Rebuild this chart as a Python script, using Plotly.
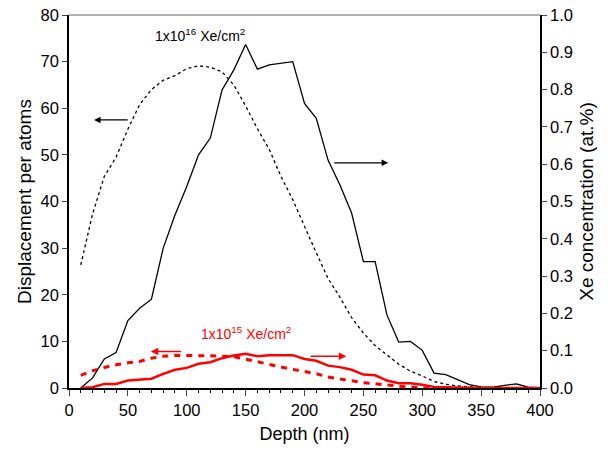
import plotly.graph_objects as go

depth = [10, 20, 30, 40, 50, 60, 70, 80, 90, 100, 110, 120, 130, 140, 150, 160, 170, 180, 190, 200,
         210, 220, 230, 240, 250, 260, 270, 280, 290, 300, 310, 320, 330, 340, 350, 360, 370, 380, 390, 400]

# 1x10^16 Xe concentration (at.%) - right axis
xe_16 = [0.0, 0.027, 0.078, 0.095, 0.181, 0.214, 0.238, 0.375, 0.464, 0.54, 0.625, 0.67, 0.799, 0.853,
         0.921, 0.855, 0.866, 0.871, 0.875, 0.763, 0.723, 0.611, 0.545, 0.469, 0.339, 0.339, 0.196,
         0.123, 0.125, 0.101, 0.040, 0.036, 0.022, 0.009, 0.003, 0.002, 0.007, 0.011, 0.002, 0.0]

# 1x10^16 displacement per atom - left axis
dpa_depth = [10, 20, 30, 40, 50, 60, 70, 80, 90, 100, 110, 120, 130, 140, 150, 160, 170, 180, 190, 200,
             210, 220, 230, 240, 250, 260, 270, 280, 290, 300, 310, 320, 330, 340, 350, 360, 370]
dpa_16 = [26.4, 37.3, 45.4, 49.5, 55.5, 60.8, 64.0, 66.0, 67.0, 68.5, 69.1, 68.8, 67.8, 65.0, 60.5,
          55.6, 51.2, 45.4, 40.4, 34.5, 29.0, 23.5, 19.5, 15.1, 11.8, 9.1, 7.0, 5.1, 3.6, 2.6, 1.4,
          0.8, 0.45, 0.25, 0.1, 0.05, 0.0]

# 1x10^15 Xe concentration (at.%) - right axis
xe_15 = [0.0, 0.002, 0.011, 0.011, 0.020, 0.022, 0.025, 0.038, 0.049, 0.054, 0.065, 0.069, 0.080, 0.087,
         0.092, 0.085, 0.088, 0.088, 0.088, 0.078, 0.073, 0.060, 0.056, 0.049, 0.036, 0.034, 0.020,
         0.013, 0.013, 0.009, 0.003, 0.002, 0.001, 0.0, 0.0, 0.0, 0.0, 0.0, 0.0, 0.0]

# 1x10^15 displacement per atom - left axis
dpa15_depth = [10, 20, 30, 40, 50, 60, 70, 80, 90, 100, 110, 120, 130, 140, 150, 160, 170, 180, 190, 200,
               210, 220, 230, 240, 250, 260, 270, 280, 290, 300, 310]
dpa_15 = [2.7, 3.7, 4.4, 5.0, 5.4, 5.7, 6.4, 6.8, 7.0, 7.0, 7.0, 6.9, 6.8, 6.7, 6.2, 5.6, 5.1, 4.5,
          4.0, 3.5, 3.06, 2.35, 1.9, 1.45, 1.15, 0.9, 0.6, 0.35, 0.15, 0.05, 0.0]

x_ticks = [0, 50, 100, 150, 200, 250, 300, 350, 400]
y_left_ticks = [0, 10, 20, 30, 40, 50, 60, 70, 80]
y_right_ticks = [0.0, 0.1, 0.2, 0.3, 0.4, 0.5, 0.6, 0.7, 0.8, 0.9, 1.0]

FONT = "Liberation Sans, Arial, sans-serif"

fig = go.Figure()
fig.add_trace(go.Scatter(x=dpa_depth, y=dpa_16, mode="lines", yaxis="y",
                         line=dict(color="black", width=1.3, dash="dot"), showlegend=False))
fig.add_trace(go.Scatter(x=depth, y=xe_16, mode="lines", yaxis="y2",
                         line=dict(color="black", width=1.3), showlegend=False))
fig.add_trace(go.Scatter(x=dpa15_depth, y=dpa_15, mode="lines", yaxis="y",
                         line=dict(color="#ff0000", width=3, dash="6px,6px"), showlegend=False))
fig.add_trace(go.Scatter(x=depth, y=xe_15, mode="lines", yaxis="y2",
                         line=dict(color="#ff0000", width=2.5), showlegend=False))

annotations = [
    dict(x=111.5, y=75.7, xref="x", yref="y", text="1x10<sup>16</sup> Xe/cm<sup>2</sup>",
         showarrow=False, font=dict(family=FONT, size=14, color="black")),
    dict(x=150.6, y=11.85, xref="x", yref="y", text="1x10<sup>15</sup> Xe/cm<sup>2</sup>",
         showarrow=False, font=dict(family=FONT, size=14, color="#ff0000")),
    # arrows
    dict(x=21.3, y=57.5, ax=51.1, ay=57.5, xref="x", yref="y", axref="x", ayref="y", text="",
         showarrow=True, arrowhead=2, arrowsize=1, arrowwidth=1.3, arrowcolor="black"),
    dict(x=271, y=48.3, ax=224, ay=48.3, xref="x", yref="y", axref="x", ayref="y", text="",
         showarrow=True, arrowhead=2, arrowsize=1, arrowwidth=1.3, arrowcolor="black"),
    dict(x=69.5, y=7.85, ax=96.4, ay=7.85, xref="x", yref="y", axref="x", ayref="y", text="",
         showarrow=True, arrowhead=2, arrowsize=1, arrowwidth=1.5, arrowcolor="#ff0000"),
    dict(x=235.5, y=6.8, ax=204, ay=6.8, xref="x", yref="y", axref="x", ayref="y", text="",
         showarrow=True, arrowhead=2, arrowsize=1, arrowwidth=1.5, arrowcolor="#ff0000"),
]

fig.update_layout(
    width=609, height=451,
    margin=dict(l=69, r=69, t=15, b=63),
    plot_bgcolor="white", paper_bgcolor="white",
    font=dict(family=FONT, size=16, color="black"),
    annotations=annotations,
    shapes=[dict(type="line", xref="paper", yref="paper", x0=0, x1=1, y0=1, y1=1,
                 line=dict(color="#999999", width=1.5))],
    xaxis=dict(range=[0, 400], tickvals=x_ticks, ticks="outside", ticklen=6, tickwidth=1,
               showline=True, linecolor="black", linewidth=1.5, showgrid=False, zeroline=False,
               tickfont=dict(size=16.5), automargin=False,
               minor=dict(dtick=10, ticks="outside", ticklen=3, tickcolor="black", showgrid=False),
               title=dict(text="Depth (nm)", font=dict(size=18), standoff=10)),
    yaxis=dict(range=[0, 80], tickvals=y_left_ticks, ticks="outside", ticklen=5,
               showline=True, linecolor="black", linewidth=1.5, showgrid=False, zeroline=False,
               tickfont=dict(size=16.5), automargin=False,
               title=dict(text="Displacement per atoms", font=dict(size=19), standoff=4)),
    yaxis2=dict(range=[0, 1.0], tickvals=y_right_ticks, tickformat=".1f", ticks="outside", ticklen=5,
                overlaying="y", side="right", anchor="x",
                showline=True, linecolor="black", linewidth=1.5, showgrid=False, zeroline=False,
                tickfont=dict(size=16.5), automargin=False,
                title=dict(text="Xe concentration (at.%)", font=dict(size=19), standoff=8)),
)

fig.write_html("out.html", config={"displayModeBar": False},
               post_script="document.body.style.margin='0';")
